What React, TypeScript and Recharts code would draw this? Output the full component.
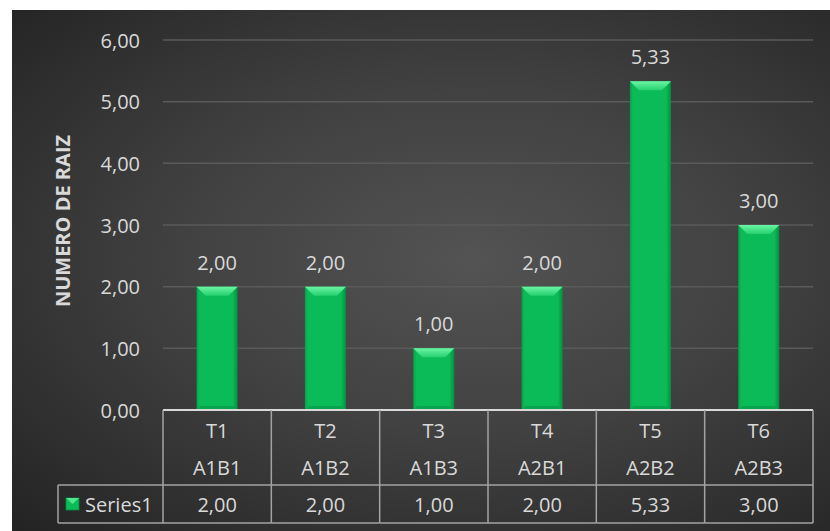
import React from 'react';
import { BarChart, Bar, XAxis, YAxis, CartesianGrid, LabelList } from 'recharts';

const categories = ['T1', 'T2', 'T3', 'T4', 'T5', 'T6'];
const subCategories = ['A1B1', 'A1B2', 'A1B3', 'A2B1', 'A2B2', 'A2B3'];
const series1 = [2.0, 2.0, 1.0, 2.0, 5.33, 3.0];
const yTicks = [0, 1, 2, 3, 4, 5, 6];
const seriesName = 'Series1';
const yTitle = 'NUMERO DE RAIZ';

const data = categories.map((c, i) => ({ name: c, sub: subCategories[i], value: series1[i] }));

const W = 830;
const H = 531;
const PLOT_LEFT = 163;
const PLOT_RIGHT = 17;
const TABLE_H = 113;
const ROW_LINE = 75;
const HEADER_LEFT = 58;
const BAND = (W - PLOT_LEFT - PLOT_RIGHT) / categories.length;

const TEXT = '#d9d9d9';
const GRID = '#5a5a5a';
const TABLE_LINE = '#a3a3a3';
const FONT = '"Open Sans", sans-serif';

const fmt = (v: number) => v.toFixed(2).replace('.', ',');

const BevelBar = (props: any) => {
  const { x, y, width, height } = props;
  if (!height || height <= 0) return null;
  const b = Math.min(9, height / 2);
  const bb = Math.min(4, height / 4);
  return (
    <g>
      <defs>
        <linearGradient id="barBody" x1="0" y1="0" x2="1" y2="0">
          <stop offset="0" stopColor="#069f49" />
          <stop offset="0.07" stopColor="#0bbb58" />
          <stop offset="0.88" stopColor="#0bbb58" />
          <stop offset="1" stopColor="#03903f" />
        </linearGradient>
        <linearGradient id="barTop" x1="0" y1="0" x2="0" y2="1">
          <stop offset="0" stopColor="#6af5a4" />
          <stop offset="1" stopColor="#27d06f" />
        </linearGradient>
      </defs>
      <rect x={x} y={y} width={width} height={height} fill="url(#barBody)" />
      <polygon
        points={`${x},${y} ${x + width},${y} ${x + width - b},${y + b} ${x + b},${y + b}`}
        fill="url(#barTop)"
      />
      <polygon
        points={`${x},${y + height} ${x + width},${y + height} ${x + width - bb},${y + height - bb} ${x + bb},${y + height - bb}`}
        fill="#08a54e"
      />
    </g>
  );
};

const YTick = (props: any) => {
  const { y, payload } = props;
  return (
    <text x={140} y={y} textAnchor="end" dominantBaseline="central" fill={TEXT} fontSize={20} fontFamily={FONT}>
      {fmt(payload.value)}
    </text>
  );
};

const TableTick = (props: any) => {
  const { x, y, index } = props;
  const left = x - BAND / 2;
  const right = x + BAND / 2;
  const txt = { fill: TEXT, fontSize: 20, fontFamily: FONT, textAnchor: 'middle' as const, dominantBaseline: 'central' as const };
  return (
    <g>
      <line x1={right} y1={y} x2={right} y2={y + TABLE_H} stroke={TABLE_LINE} strokeWidth={1.5} />
      <line x1={left} y1={y + ROW_LINE} x2={right} y2={y + ROW_LINE} stroke={TABLE_LINE} strokeWidth={1.5} />
      <line x1={left} y1={y + TABLE_H} x2={right} y2={y + TABLE_H} stroke={TABLE_LINE} strokeWidth={1.5} />
      {index === 0 && (
        <g>
          <line x1={left} y1={y} x2={left} y2={y + TABLE_H} stroke={TABLE_LINE} strokeWidth={1.5} />
          <line x1={HEADER_LEFT} y1={y + ROW_LINE} x2={left} y2={y + ROW_LINE} stroke={TABLE_LINE} strokeWidth={1.5} />
          <line x1={HEADER_LEFT} y1={y + TABLE_H} x2={left} y2={y + TABLE_H} stroke={TABLE_LINE} strokeWidth={1.5} />
          <line x1={HEADER_LEFT} y1={y + ROW_LINE} x2={HEADER_LEFT} y2={y + TABLE_H} stroke={TABLE_LINE} strokeWidth={1.5} />
          <rect x={HEADER_LEFT + 8} y={y + 88} width={13} height={12} fill="#0bbb58" stroke="#06903f" strokeWidth={0.8} />
          <polygon
            points={`${HEADER_LEFT + 8},${y + 88} ${HEADER_LEFT + 21},${y + 88} ${HEADER_LEFT + 14.5},${y + 94}`}
            fill="#4ee88f"
          />
          <text x={HEADER_LEFT + 27} y={y + 94} fill={TEXT} fontSize={20} fontFamily={FONT} dominantBaseline="central">
            {seriesName}
          </text>
        </g>
      )}
      <text x={x} y={y + 20} {...txt}>{categories[index]}</text>
      <text x={x} y={y + 57} {...txt}>{subCategories[index]}</text>
      <text x={x} y={y + 94} {...txt}>{fmt(series1[index])}</text>
    </g>
  );
};

const YTitle = (props: any) => {
  const { viewBox } = props;
  const cy = viewBox.y + viewBox.height / 2 - 4;
  return (
    <text
      x={62}
      y={cy}
      transform={`rotate(-90, 62, ${cy})`}
      textAnchor="middle"
      dominantBaseline="central"
      fill={TEXT}
      fontSize={20}
      fontWeight="bold"
      fontFamily={FONT}
    >
      {yTitle}
    </text>
  );
};

export default function App() {
  return (
    <div style={{ position: 'absolute', left: 0, top: 0, width: W, height: H, background: '#ffffff' }}>
      <div
        style={{
          position: 'absolute',
          left: 12,
          top: 10,
          width: W - 12,
          height: H - 10,
          background: 'radial-gradient(ellipse at 56% 48%, #535353 0%, #414141 45%, #232323 100%)',
        }}
      />
      <div style={{ position: 'absolute', left: 0, top: 0 }}>
        <BarChart
          width={W}
          height={H}
          data={data}
          margin={{ top: 40, right: PLOT_RIGHT, bottom: H - 410 - TABLE_H, left: 0 }}
          barCategoryGap="31%"
          style={{ fontFamily: FONT }}
        >
          <CartesianGrid vertical={false} stroke={GRID} strokeWidth={1.5} />
          <YAxis
            width={PLOT_LEFT}
            domain={[0, 6]}
            ticks={yTicks}
            interval={0}
            axisLine={false}
            tickLine={false}
            tick={<YTick />}
            label={<YTitle />}
          />
          <XAxis
            dataKey="name"
            height={TABLE_H}
            interval={0}
            tickSize={0}
            tickMargin={0}
            tickLine={false}
            axisLine={{ stroke: '#d9d9d9', strokeWidth: 2 }}
            tick={<TableTick />}
          />
          <Bar dataKey="value" name={seriesName} shape={<BevelBar />} isAnimationActive={false}>
            <LabelList
              dataKey="value"
              position="top"
              offset={17}
              formatter={(v: any) => fmt(Number(v))}
              fill={TEXT}
              fontSize={20}
              fontFamily={FONT}
            />
          </Bar>
        </BarChart>
      </div>
    </div>
  );
}
